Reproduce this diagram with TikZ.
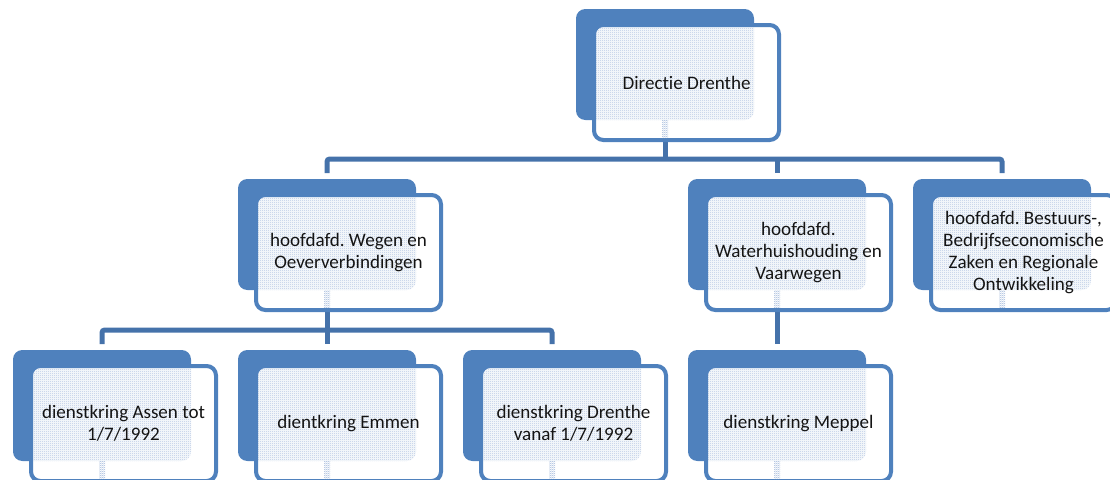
\documentclass[tikz,border=0pt]{standalone}
\usepackage{fontspec}
\setmainfont{Carlito}[Ligatures=NoCommon]
\usetikzlibrary{calc,patterns.meta}

\definecolor{boxblue}{RGB}{79,129,189}
\definecolor{linkblue}{RGB}{69,114,170}
\definecolor{dotblue}{RGB}{150,176,215}
\definecolor{txt}{RGB}{20,20,20}

\pgfdeclarelayer{background}
\pgfsetlayers{background,main}

% fine checker dots used inside the overlapping part of the two cards
\tikzdeclarepattern{
  name=finedots, type=uncolored,
  bounding box={(0,0) and (1.5pt,1.5pt)},
  tile size={(1.5pt,1.5pt)},
  code={\fill (0,0) rectangle (0.75pt,0.75pt);
        \fill (0.75pt,0.75pt) rectangle (1.5pt,1.5pt);}
}

\tikzset{
  backcard/.style={rectangle, rounded corners=7pt, fill=boxblue, draw=none,
    minimum width=133.5pt, minimum height=83.25pt, inner sep=0pt, outer sep=0pt},
  frontcard/.style={rectangle, rounded corners=7pt, fill=white, draw=boxblue,
    line width=3pt, minimum width=138.75pt, minimum height=86.25pt,
    inner sep=0pt, outer sep=0pt},
  dotfill/.style={pattern={finedots}, pattern color=dotblue},
  cardtext/.style={align=center, text=txt,
    font=\fontsize{14.3}{16.6}\selectfont\frenchspacing},
  link/.style={draw=linkblue, line width=3.75pt, rounded corners=2pt}
}

% #1 name, #2 left, #3 top (pixel units, y downwards), #4 label
\newcommand\orgcard[4]{%
  \node[backcard, anchor=north west] (#1-b) at (#2,#3) {};
  \node[frontcard, anchor=north west] (#1) at (#2+18,#3+16) {};
  \begin{scope}
    \clip[rounded corners=5.5pt] ($(#1.north west)+(2,2)$) rectangle ($(#1.south east)+(-2,-2)$);
    \fill[dotfill, rounded corners=7pt] (#1-b.north west) rectangle (#1-b.south east);
    \fill[dotfill] ($(#1-b.south)+(-3,0)$) rectangle ($(#1-b.south |- #1.south)+(3,0)$);
  \end{scope}
  \node[cardtext] at (#1) {#4};
}

\begin{document}
\begin{tikzpicture}[x=0.75pt,y=-0.75pt]
  \useasboundingbox (0,0) rectangle (1110,479);

  % top level
  \orgcard{dir}{576}{9}{Directie Drenthe}

  % main departments
  \orgcard{weg}{238}{179}{hoofdafd. Wegen en\\Oeververbindingen}
  \orgcard{wat}{688}{179}{hoofdafd.\\Waterhuishouding en\\Vaarwegen}
  \orgcard{bes}{913}{179}{hoofdafd. Bestuurs-,\\Bedrijfseconomische\\Zaken en Regionale\\Ontwikkeling}

  % districts
  \orgcard{ass}{13}{350}{dienstkring Assen tot\\1/7/1992}
  \orgcard{emm}{238}{350}{dientkring Emmen}
  \orgcard{dre}{463}{350}{dienstkring Drenthe\\vanaf 1/7/1992}
  \orgcard{mep}{688}{350}{dienstkring Meppel}

  \coordinate (busA) at (0,159);
  \coordinate (busB) at (0,330);

  \begin{pgfonlayer}{background}
    % directorate to departments
    \draw[link] (dir-b.south) -- (dir-b.south |- busA);
    \draw[link] ($(weg-b.north)+(0,-6)$) -- (weg-b.north |- busA)
                -- (bes-b.north |- busA) -- ($(bes-b.north)+(0,-6)$);
    \draw[link] (wat-b.north |- busA) -- ($(wat-b.north)+(0,-6)$);
    % roads department to its districts
    \draw[link] (weg-b.south) -- (weg-b.south |- busB);
    \draw[link] ($(ass-b.north)+(0,-6)$) -- (ass-b.north |- busB)
                -- (dre-b.north |- busB) -- ($(dre-b.north)+(0,-6)$);
    \draw[link] (emm-b.north |- busB) -- ($(emm-b.north)+(0,-6)$);
    % water department to its district
    \draw[link] (wat-b.south) -- ($(mep-b.north)+(0,-6)$);
  \end{pgfonlayer}
\end{tikzpicture}
\end{document}
